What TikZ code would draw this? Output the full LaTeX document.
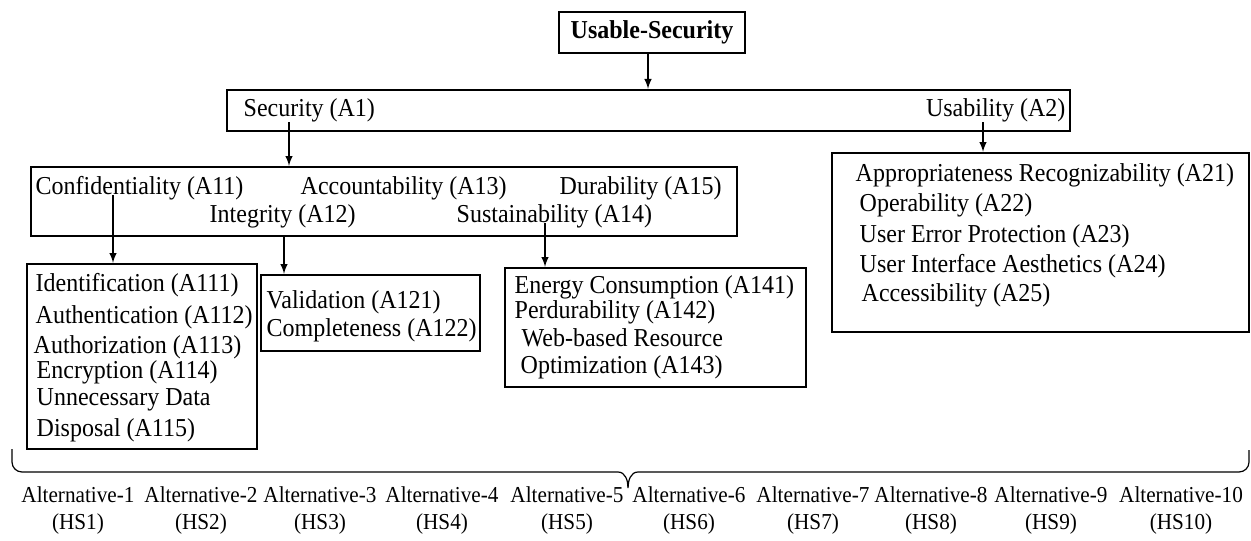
\documentclass[tikz,border=0pt]{standalone}
\usepackage{fontspec}
\setmainfont[FakeStretch=0.93]{Liberation Serif}
\usetikzlibrary{fit}

\tikzset{
  box/.style={draw, line width=1.2pt, inner sep=0pt},
  lbl/.style={anchor=west, inner sep=0pt, font=\fontsize{12.9}{15}\selectfont},
  altlbl/.style={align=center, inner sep=0pt, font=\fontsize{11.4}{13.5}\selectfont},
}

\begin{document}
\begin{tikzpicture}[>=latex, x=0.5pt, y=-0.5pt, line width=0.7pt]
    \useasboundingbox (0,0) rectangle (1251,540);
    % goal
    \node[box, fit={(559,12) (745,53)}] (goal) {};
    \node[font=\bfseries\fontsize{12.9}{15}\selectfont, inner sep=0pt] (goaltxt) at (goal) {Usable-Security};
    % criteria
    \node[box, fit={(227,90) (1070,131)}] (crit) {};
    \node[lbl] (sec) at (243,110) {Security (A1)};
    \node[lbl, anchor=east] (usa) at (1066,110) {Usability (A2)};
    % security sub-criteria
    \node[box, fit={(31,167) (737,236)}] (secsub) {};
    \node[lbl] (conf) at (35,188) {Confidentiality (A11)};
    \node[lbl] (acc) at (300,188) {Accountability (A13)};
    \node[lbl] (dur) at (559,188) {Durability (A15)};
    \node[lbl] (integ) at (209,216) {Integrity (A12)};
    \node[lbl] (sust) at (456,216) {Sustainability (A14)};
    % usability sub-criteria
    \node[box, fit={(832,153) (1249,332)}] (usasub) {};
    \node[lbl] (a21) at (855,175) {Appropriateness Recognizability (A21)};
    \node[lbl] (a22) at (859,205) {Operability (A22)};
    \node[lbl] (a23) at (859,236) {User Error Protection (A23)};
    \node[lbl] (a24) at (859,266) {User Interface Aesthetics (A24)};
    \node[lbl] (a25) at (861,295) {Accessibility (A25)};
    % confidentiality
    \node[box, fit={(27,264) (257,449)}] (confsub) {};
    \node[lbl] (a111) at (35,285) {Identification (A111)};
    \node[lbl] (a112) at (35,317) {Authentication (A112)};
    \node[lbl] (a113) at (33,347) {Authorization (A113)};
    \node[lbl] (a114) at (36,372) {Encryption (A114)};
    \node[lbl] (a115a) at (36,400) {Unnecessary Data};
    \node[lbl] (a115b) at (36,430) {Disposal (A115)};
    % integrity
    \node[box, fit={(261,275) (480,351)}] (intsub) {};
    \node[lbl] (a121) at (266,302) {Validation (A121)};
    \node[lbl] (a122) at (266,330) {Completeness (A122)};
    % sustainability
    \node[box, fit={(505,268) (806,387)}] (sustsub) {};
    \node[lbl] (a141) at (514,287) {Energy Consumption (A141)};
    \node[lbl] (a142) at (514,312) {Perdurability (A142)};
    \node[lbl] (a143a) at (521,338) {Web-based Resource};
    \node[lbl] (a143b) at (520,367) {Optimization (A143)};
    % arrow start points
    \coordinate (goalarr) at (648,53);
    \coordinate (secarr) at (289,122);
    \coordinate (usaarr) at (983,122);
    \coordinate (confarr) at (113,195);
    \coordinate (intarr) at (284,236);
    \coordinate (sustarr) at (545,223);
    \draw[->] (goalarr) -- (goalarr |- crit.north);
    \draw[->] (secarr) -- (secarr |- secsub.north);
    \draw[->] (usaarr) -- (usaarr |- usasub.north);
    \draw[->] (confarr) -- (confarr |- confsub.north);
    \draw[->] (intarr) -- (intarr |- intsub.north);
    \draw[->] (sustarr) -- (sustarr |- sustsub.north);
    % brace over alternatives
    \draw[line width=0.6pt] (12,449) -- (12,462) to[out=-90, in=180] (22,472) -- (618,472)
        to[out=0, in=90] (628,488) to[out=90, in=180] (638,472) -- (1239,472)
        to[out=0, in=-90] (1249,462) -- (1249,450);
    % alternatives
    \node[altlbl] (hs1) at (78,511) {Alternative-1\\(HS1)};
    \node[altlbl] (hs2) at (201,511) {Alternative-2\\(HS2)};
    \node[altlbl] (hs3) at (320,511) {Alternative-3\\(HS3)};
    \node[altlbl] (hs4) at (442,511) {Alternative-4\\(HS4)};
    \node[altlbl] (hs5) at (567,511) {Alternative-5\\(HS5)};
    \node[altlbl] (hs6) at (689,511) {Alternative-6\\(HS6)};
    \node[altlbl] (hs7) at (813,511) {Alternative-7\\(HS7)};
    \node[altlbl] (hs8) at (931,511) {Alternative-8\\(HS8)};
    \node[altlbl] (hs9) at (1051,511) {Alternative-9\\(HS9)};
    \node[altlbl] (hs10) at (1181,511) {Alternative-10\\(HS10)};
\end{tikzpicture}
\end{document}
